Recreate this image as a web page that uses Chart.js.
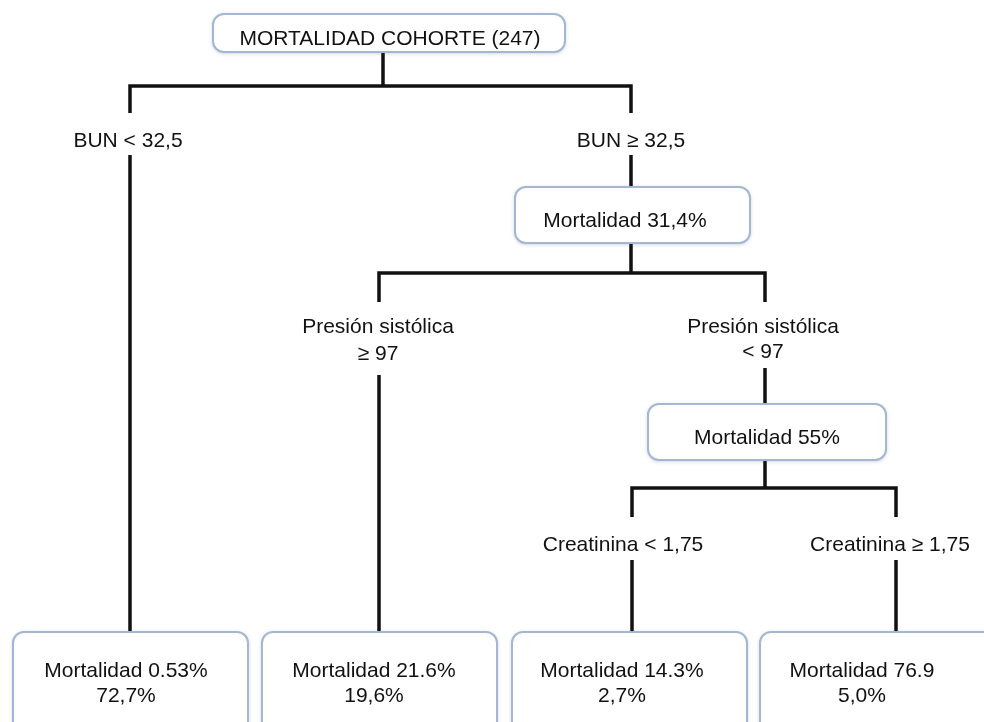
<!DOCTYPE html>
<html><head><meta charset="utf-8">
<script src="https://cdn.jsdelivr.net/npm/chart.js@4"></script>
<style>html,body{margin:0;padding:0;background:#fff;overflow:hidden}canvas{display:block}</style>
</head><body>
<canvas id="c" width="984" height="722"></canvas>
<script>
// ---- Data: node texts of the decision tree ----
const boxTexts = [
  ["MORTALIDAD COHORTE (247)"],
  ["Mortalidad 31,4%"],
  ["Mortalidad 55%"],
  ["Mortalidad 0.53%", "72,7%"],
  ["Mortalidad 21.6%", "19,6%"],
  ["Mortalidad 14.3%", "2,7%"],
  ["Mortalidad 76.9", "5,0%"]
];
const splitTexts = [
  ["BUN < 32,5"],
  ["BUN ≥ 32,5"],
  ["Presión sistólica", "≥ 97"],
  ["Presión sistólica", "< 97"],
  ["Creatinina < 1,75"],
  ["Creatinina ≥ 1,75"]
];
const leafMortality = [0.53, 21.6, 14.3, 76.9];
const leafShare = [72.7, 19.6, 2.7, 5.0];

// ---- Layout (in axis units: x 0..984, y 0..722 downward) ----
const boxRects = [[213,14,565,52],[515,187,750,243],[648,404,886,460],
  [13,632,248,735],[262,632,497,735],[512,632,747,735],[760,632,995,735]];
const boxTextX = [390,625,767,126,374,622,862];
const boxTextY = [[45],[227],[444],[677,702],[677,702],[677,702],[677,702]];
const splitTextX = [128,631,378,763,623,890];
const splitTextY = [[147],[147],[333,360],[333,358],[551],[551]];
const connectors = [
  [[383,52],[383,86]],
  [[130,113],[130,86],[631,86],[631,113]],
  [[130,155],[130,632]],
  [[631,155],[631,187]],
  [[631,243],[631,273]],
  [[379,302],[379,273],[765,273],[765,302]],
  [[379,375],[379,632]],
  [[765,368],[765,404]],
  [[765,460],[765,488]],
  [[632,517],[632,488],[896,488],[896,517]],
  [[632,560],[632,632]],
  [[896,560],[896,632]]
];

const FONT = "21px 'Liberation Sans', Arial, Helvetica, sans-serif";

const treePlugin = {
  id: 'treeBoxes',
  afterDatasetsDraw(chart) {
    const ctx = chart.ctx;
    const xs = chart.scales.x, ys = chart.scales.y;
    const px = v => xs.getPixelForValue(v), py = v => ys.getPixelForValue(v);
    ctx.save();
    boxRects.forEach((r, i) => {
      const x1 = px(r[0]), y1 = py(r[1]), x2 = px(r[2]), y2 = py(r[3]);
      ctx.save();
      ctx.beginPath();
      ctx.roundRect(x1, y1, x2 - x1, y2 - y1, 11);
      ctx.shadowColor = 'rgba(60,80,120,0.35)';
      ctx.shadowBlur = 4;
      ctx.shadowOffsetY = 1;
      ctx.fillStyle = '#ffffff';
      ctx.fill();
      ctx.shadowColor = 'transparent';
      ctx.lineWidth = 2;
      ctx.strokeStyle = '#a3b7d3';
      ctx.stroke();
      ctx.restore();
      ctx.font = FONT;
      ctx.fillStyle = '#111';
      ctx.textAlign = 'center';
      ctx.textBaseline = 'alphabetic';
      boxTexts[i].forEach((t, k) => ctx.fillText(t, px(boxTextX[i]), py(boxTextY[i][k])));
    });
    ctx.font = FONT;
    ctx.fillStyle = '#111';
    ctx.textAlign = 'center';
    ctx.textBaseline = 'alphabetic';
    splitTexts.forEach((lines, i) => {
      lines.forEach((t, k) => ctx.fillText(t, px(splitTextX[i]), py(splitTextY[i][k])));
    });
    ctx.restore();
  }
};

new Chart(document.getElementById('c'), {
  type: 'scatter',
  data: {
    datasets: connectors.map(seg => ({
      data: seg.map(p => ({x: p[0], y: p[1]})),
      showLine: true,
      borderColor: '#111',
      borderWidth: 3.5,
      borderJoinStyle: 'miter',
      borderCapStyle: 'butt',
      pointRadius: 0,
      tension: 0,
      clip: false
    }))
  },
  options: {
    responsive: false,
    animation: false,
    layout: { padding: 0 },
    plugins: { legend: { display: false }, tooltip: { enabled: false } },
    scales: {
      x: { type: 'linear', min: 0, max: 984, display: false },
      y: { type: 'linear', min: 0, max: 722, reverse: true, display: false }
    }
  },
  plugins: [treePlugin]
});
</script>
</body></html>
